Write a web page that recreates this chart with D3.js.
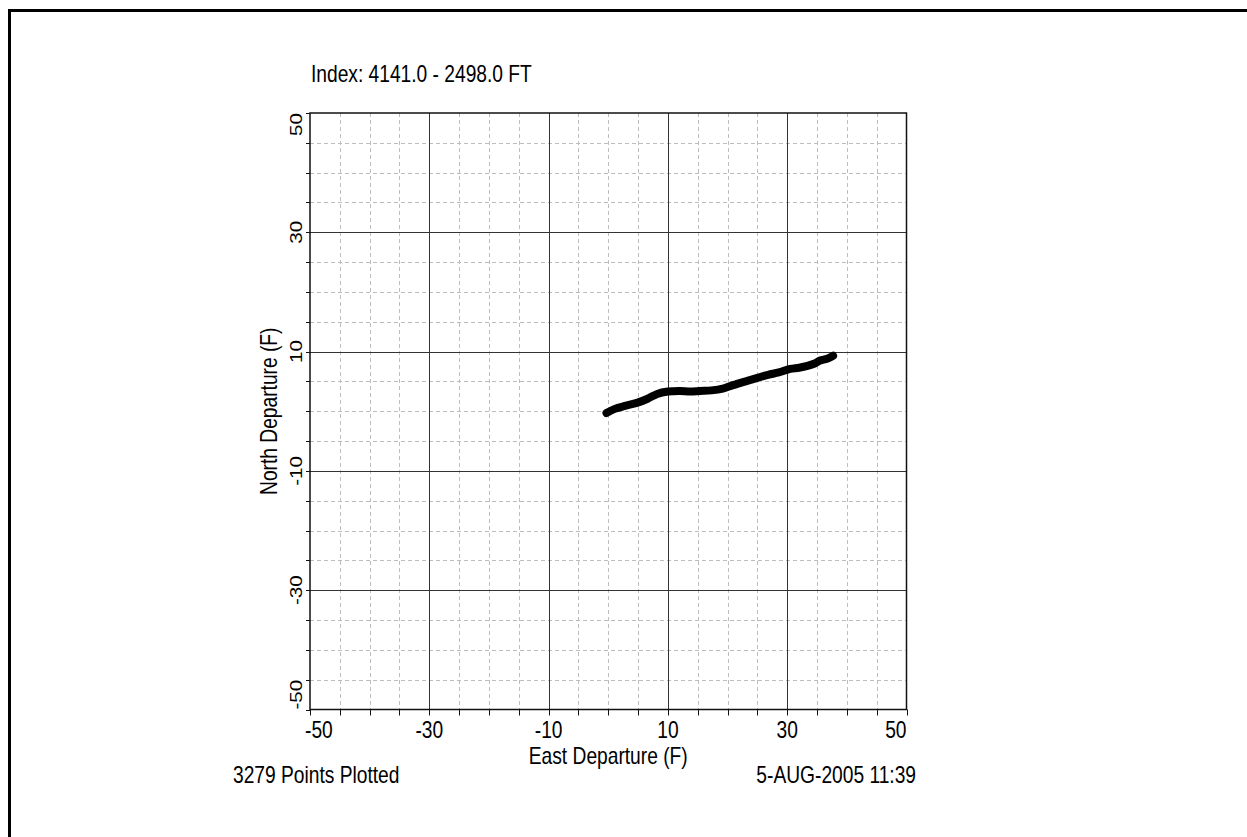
<!DOCTYPE html>
<html>
<head>
<meta charset="utf-8">
<script src="https://cdn.jsdelivr.net/npm/d3@7"></script>
<style>
  html, body { margin: 0; padding: 0; background: #fff; }
  svg { display: block; }
  text { font-family: "Liberation Sans", Arial, Helvetica, sans-serif; fill: #000; }
</style>
</head>
<body>
<svg id="chart" width="1247" height="837"></svg>
<script>
// Well path plan view: east vs. north departure (ft)
const eastDeparture  = [-0.3, 1.1, 2.8, 4.8, 6.6, 8.2, 10.0, 12.0, 13.7, 15.4, 17.3, 19.2, 20.4, 21.6, 23.3, 25.0, 26.8, 28.6, 30.5, 32.0, 33.4, 34.6, 35.5, 36.7, 37.7];
const northDeparture = [-0.3, 0.4, 0.9, 1.4, 2.1, 2.9, 3.3, 3.4, 3.3, 3.4, 3.5, 3.8, 4.2, 4.6, 5.1, 5.6, 6.1, 6.5, 7.1, 7.3, 7.6, 8.0, 8.5, 8.8, 9.3];

const axisLabelTicks = [-50, -30, -10, 10, 30, 50];
const majorGrid = [-30, -10, 10, 30];
const minorGrid = d3.range(-45, 50, 5).filter(v => !majorGrid.includes(v));
const tickMarks = d3.range(-50, 51, 5);

const titleText = "Index: 4141.0 - 2498.0 FT";
const xTitle = "East Departure (F)";
const yTitle = "North Departure (F)";
const footLeft = "3279 Points Plotted";
const footRight = "5-AUG-2005 11:39";

const FS = 24;          // base font size
const NARROW = 0.8;     // horizontal condensing of the plotter font

const svg = d3.select("#chart");

// page frame (top and left edges)
svg.append("path")
  .attr("d", "M9.5,837 V10.5 H1247")
  .attr("fill", "none").attr("stroke", "#000").attr("stroke-width", 3);

const x = d3.scaleLinear().domain([-50, 50]).range([310, 906.5]);
const y = d3.scaleLinear().domain([-50, 50]).range([709.5, 113]);
const px = v => Math.round(x(v)) + 0.5;
const py = v => Math.round(y(v)) + 0.5;

const g = svg.append("g");

// minor dashed grid
g.selectAll("line.minorV").data(minorGrid).join("line")
  .attr("x1", px).attr("x2", px)
  .attr("y1", y(50)).attr("y2", y(-50))
  .attr("stroke", "#bdbdbd").attr("stroke-width", 1).attr("stroke-dasharray", "4,3");
g.selectAll("line.minorH").data(minorGrid).join("line")
  .attr("y1", py).attr("y2", py)
  .attr("x1", x(-50)).attr("x2", x(50))
  .attr("stroke", "#bdbdbd").attr("stroke-width", 1).attr("stroke-dasharray", "4,3");

// major grid
g.selectAll("line.majorV").data(majorGrid).join("line")
  .attr("x1", px).attr("x2", px)
  .attr("y1", y(50)).attr("y2", y(-50))
  .attr("stroke", "#333").attr("stroke-width", 1);
g.selectAll("line.majorH").data(majorGrid).join("line")
  .attr("y1", py).attr("y2", py)
  .attr("x1", x(-50)).attr("x2", x(50))
  .attr("stroke", "#333").attr("stroke-width", 1);

// plot border
g.append("rect")
  .attr("x", x(-50)).attr("y", y(50))
  .attr("width", x(50) - x(-50)).attr("height", y(-50) - y(50))
  .attr("fill", "none").attr("stroke", "#111").attr("stroke-width", 1.5);

// tick marks
g.selectAll("line.xt").data(tickMarks).join("line")
  .attr("x1", px).attr("x2", px)
  .attr("y1", y(-50)).attr("y2", y(-50) + 6)
  .attr("stroke", "#111").attr("stroke-width", 1);
g.selectAll("line.yt").data(tickMarks).join("line")
  .attr("y1", py).attr("y2", py)
  .attr("x1", x(-50)).attr("x2", x(-50) - 4)
  .attr("stroke", "#111").attr("stroke-width", 1);

const anchorFor = (d, i) => i === 0 ? "start" : (i === axisLabelTicks.length - 1 ? "end" : "middle");

// x tick labels (end labels aligned inward)
g.selectAll("text.xl").data(axisLabelTicks).join("text")
  .attr("transform", (d, i) => `translate(${x(d) + (i === 0 ? -5 : 0)},738) scale(${NARROW},1)`)
  .attr("font-size", FS)
  .attr("text-anchor", anchorFor)
  .text(d => d);

// y tick labels, rotated and squat
g.selectAll("text.yl").data(axisLabelTicks).join("text")
  .attr("transform", d => `translate(302,${y(d)}) rotate(-90) scale(0.86,0.7)`)
  .attr("font-size", FS)
  .attr("text-anchor", anchorFor)
  .text(d => d);

// titles and footers
function label(tx, ty, str, anchor, rot) {
  svg.append("text")
    .attr("transform", `translate(${tx},${ty})${rot ? " rotate(-90)" : ""} scale(${NARROW},1)`)
    .attr("font-size", FS)
    .attr("text-anchor", anchor)
    .text(str);
}
label(311, 82, titleText, "start");
label((x(-50) + x(50)) / 2, 764, xTitle, "middle");
label(277, (y(-50) + y(50)) / 2, yTitle, "middle", true);
label(233, 783, footLeft, "start");
label(916, 783, footRight, "end");

// well trajectory
const pts = eastDeparture.map((e, i) => [e, northDeparture[i]]);
svg.append("path")
  .datum(pts)
  .attr("d", d3.line().x(d => x(d[0])).y(d => y(d[1])).curve(d3.curveCatmullRom))
  .attr("fill", "none").attr("stroke", "#000").attr("stroke-width", 8)
  .attr("stroke-linecap", "round").attr("stroke-linejoin", "round");
</script>
</body>
</html>
